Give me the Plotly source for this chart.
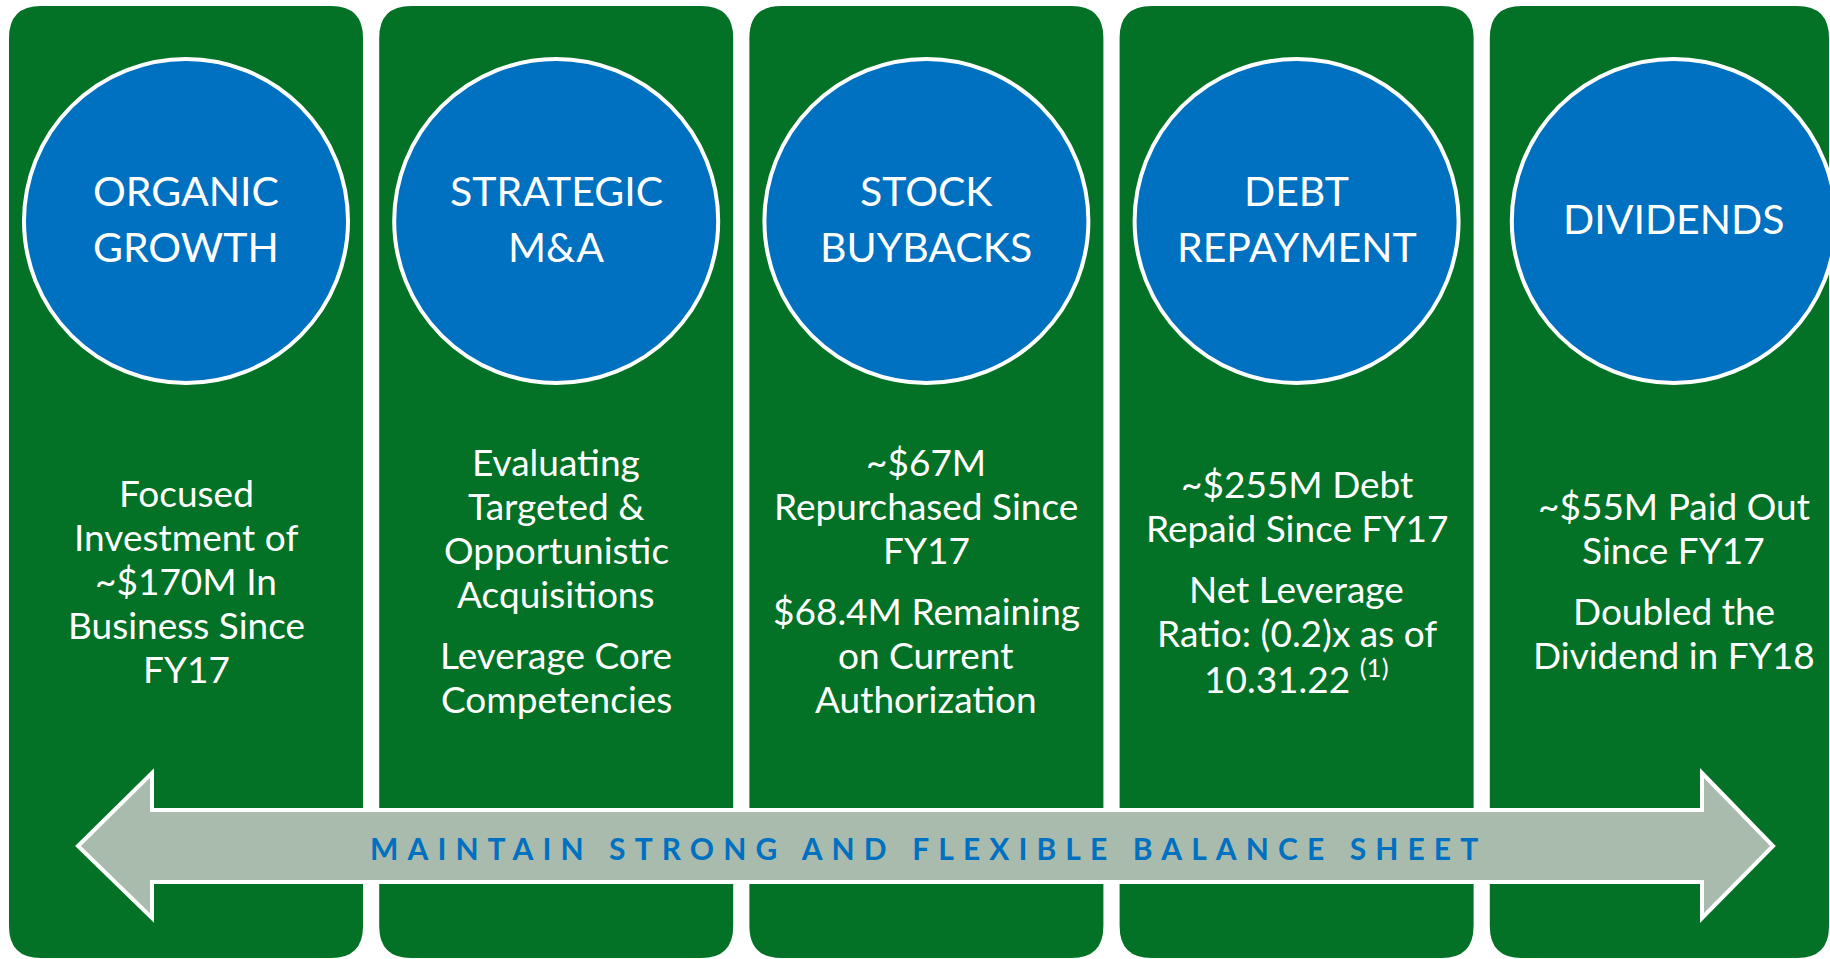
import plotly.graph_objects as go

# capital allocation pillars
titles = [
    ["ORGANIC", "GROWTH"],
    ["STRATEGIC", "M&A"],
    ["STOCK", "BUYBACKS"],
    ["DEBT", "REPAYMENT"],
    ["DIVIDENDS"],
]
details = [
    [["Focused", "Investment of", "~$170M In", "Business Since", "FY17"]],
    [["Evaluating", "Targeted &", "Opportunistic", "Acquisitions"],
     ["Leverage Core", "Competencies"]],
    [["~$67M", "Repurchased Since", "FY17"],
     ["$68.4M Remaining", "on Current", "Authorization"]],
    [["~$255M Debt", "Repaid Since FY17"],
     ["Net Leverage", "Ratio: (0.2)x as of", "10.31.22 <sup>(1)</sup>"]],
    [["~$55M Paid Out", "Since FY17"],
     ["Doubled the", "Dividend in FY18"]],
]
banner = "MAINTAIN STRONG AND FLEXIBLE BALANCE SHEET"

W, H = 1830, 959
GREEN = "#037126"
BLUE = "#0070C0"
GREY = "#A9BBAD"
FONT = "Lato"

panel_left, panel_step, panel_w = 9, 370.2, 354
panel_top, panel_bot, corner = 6, 958, 32
circle_y, circle_r = 221, 162
body_mid, line_h, para_gap = 580, 44, 16.5


def rounded_rect(x0, y0, x1, y1, r):
    return (f"M{x0 + r},{y0} L{x1 - r},{y0} Q{x1},{y0} {x1},{y0 + r} "
            f"L{x1},{y1 - r} Q{x1},{y1} {x1 - r},{y1} L{x0 + r},{y1} "
            f"Q{x0},{y1} {x0},{y1 - r} L{x0},{y0 + r} Q{x0},{y0} {x0 + r},{y0} Z")


shapes = []
annotations = []

for i in range(len(titles)):
    x0 = panel_left + i * panel_step
    x1 = min(x0 + panel_w, W - 1)
    shapes.append(dict(type="path", path=rounded_rect(x0, panel_top, x1, panel_bot, corner),
                       fillcolor=GREEN, line=dict(width=0), layer="above"))

# double-headed arrow across the panels
ax_l, ax_r = 78, 1773
head_w, shaft_top, shaft_bot, head_top, head_bot = 74, 810, 882, 773, 918
mid = (shaft_top + shaft_bot) / 2
arrow = (f"M{ax_l},{mid} L{ax_l + head_w},{head_top} L{ax_l + head_w},{shaft_top} "
         f"L{ax_r - head_w + 3},{shaft_top} L{ax_r - head_w + 3},{head_top} L{ax_r},{mid} "
         f"L{ax_r - head_w + 3},{head_bot} L{ax_r - head_w + 3},{shaft_bot} "
         f"L{ax_l + head_w},{shaft_bot} L{ax_l + head_w},{head_bot} Z")
shapes.append(dict(type="path", path=arrow, fillcolor=GREY,
                   line=dict(color="white", width=4), layer="above"))

for i, (title, paras) in enumerate(zip(titles, details)):
    cx = panel_left + i * panel_step + panel_w / 2
    if i == len(titles) - 1:
        cx += 7
    shapes.append(dict(type="circle", x0=cx - circle_r, x1=cx + circle_r,
                       y0=circle_y - circle_r, y1=circle_y + circle_r,
                       fillcolor=BLUE, line=dict(color="white", width=4), layer="above"))
    # title lines
    n = len(title)
    for k, t in enumerate(title):
        y = 218 + (k - (n - 1) / 2) * 56
        annotations.append(dict(x=cx, y=y, text=t, showarrow=False, xanchor="center",
                                yanchor="middle", font=dict(family=FONT, size=41, color="white")))
    # body lines
    n_lines = sum(len(p) for p in paras)
    total = (n_lines - 1) * line_h + (len(paras) - 1) * para_gap
    y = body_mid - total / 2
    for p in paras:
        for t in p:
            annotations.append(dict(x=cx, y=y, text=t, showarrow=False, xanchor="center",
                                    yanchor="middle", font=dict(family=FONT, size=37, color="white")))
            y += line_h
        y += para_gap

annotations.append(dict(
    x=928, y=mid + 2, showarrow=False, xanchor="center", yanchor="middle",
    text=f'<span style="letter-spacing:9.1px">{banner}</span>',
    font=dict(family=FONT, size=30, color=BLUE, weight="bold")))

fig = go.Figure()
fig.update_layout(
    width=W, height=H, margin=dict(l=0, r=0, t=0, b=0),
    paper_bgcolor="white", plot_bgcolor="white",
    xaxis=dict(range=[0, W], visible=False, fixedrange=True),
    yaxis=dict(range=[H, 0], visible=False, fixedrange=True),
    shapes=shapes, annotations=annotations, showlegend=False,
)
fig.write_html("out.html", config={"displayModeBar": False},
               post_script="document.body.style.margin='0';document.body.style.overflow='hidden';")
